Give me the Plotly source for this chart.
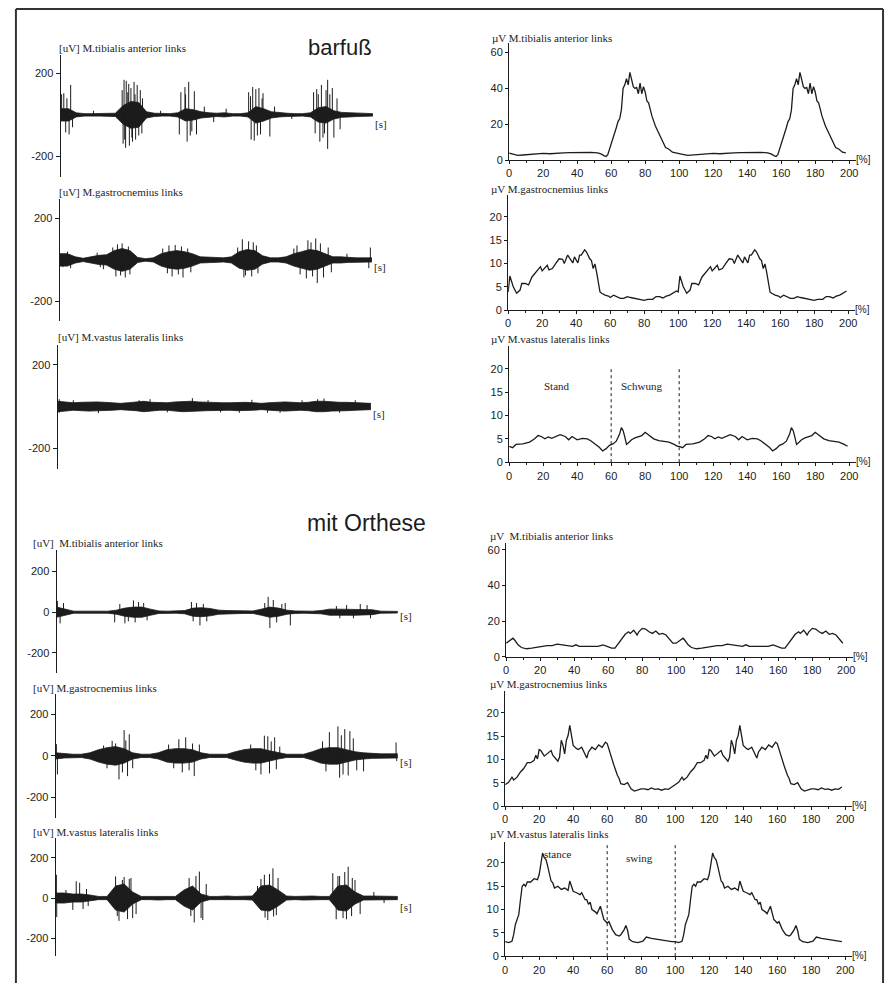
import plotly.graph_objects as go

W, H = 892, 990

# ---------------- DATA ----------------
# time grid of raw EMG envelope (s)
t_grid = [0, 0.25, 0.5, 0.75, 1.0, 1.25, 1.5, 1.75, 2.0, 2.25, 2.5, 2.75, 3.0, 3.25, 3.5, 3.75,
          4.0, 4.25, 4.5, 4.75, 5.0, 5.25, 5.5, 5.75, 6.0, 6.25, 6.5, 6.75, 7.0, 7.25, 7.5, 7.75,
          8.0, 8.25, 8.5, 8.75, 9.0, 9.25, 9.5, 9.75, 10.0]

# dense-core amplitude of raw EMG (uV), barfuß
tib_bar_core = [30, 30, 10, 6, 6, 6, 6, 8, 45, 65, 60, 15, 8, 6, 6, 10, 30, 25, 15, 10,
                8, 10, 6, 6, 10, 40, 30, 15, 10, 8, 6, 6, 10, 35, 40, 20, 12, 10, 8, 6, 6]
gas_bar_core = [30, 30, 15, 8, 15, 22, 25, 45, 55, 45, 12, 6, 10, 30, 40, 45, 40, 30, 15, 12,
                12, 10, 15, 40, 50, 45, 20, 10, 10, 15, 30, 40, 50, 45, 30, 15, 15, 12, 10, 10, 10]
vas_bar_core = [25, 22, 18, 20, 22, 22, 20, 18, 15, 18, 20, 25, 20, 18, 18, 22, 25, 25, 22, 20,
                18, 18, 18, 20, 20, 18, 15, 18, 20, 22, 20, 18, 20, 25, 25, 22, 20, 20, 18, 18, 15]
# mit Orthese
tib_ort_core = [25, 15, 5, 5, 5, 5, 5, 10, 20, 25, 25, 15, 6, 5, 5, 8, 20, 22, 18, 10,
                8, 8, 6, 6, 15, 25, 20, 10, 6, 5, 5, 8, 15, 15, 15, 15, 15, 12, 5, 5, 4]
gas_ort_core = [15, 10, 8, 8, 15, 30, 40, 45, 35, 15, 8, 8, 15, 30, 35, 35, 30, 15, 8, 8,
                8, 20, 30, 35, 35, 25, 15, 8, 8, 8, 20, 35, 40, 40, 30, 20, 15, 12, 10, 10, 10]
vas_ort_core = [25, 25, 20, 20, 15, 8, 8, 60, 70, 30, 8, 8, 10, 8, 8, 40, 60, 20, 8, 8,
                10, 8, 8, 10, 60, 65, 40, 10, 8, 10, 10, 8, 8, 60, 65, 30, 10, 10, 10, 8, 8]

# individual spikes (time s, peak uV)
tib_bar_spk_t = [0.03, 0.1, 0.16, 0.27, 0.32, 0.38, 1.97, 2.03, 2.1, 2.18, 2.25, 2.35, 2.45, 2.55,
                 2.0, 2.08, 2.2, 2.3, 2.4, 2.6, 3.85, 3.98, 4.1, 4.28, 3.8, 4.05, 4.15, 4.35, 4.6, 4.9,
                 6.02, 6.15, 6.25, 6.35, 6.48, 6.1, 6.2, 6.4, 6.7, 6.85,
                 8.1, 8.2, 8.35, 8.5, 8.55, 8.7, 8.85, 8.15, 8.3, 8.55, 8.75, 8.95,
                 2.05, 2.15, 2.28, 2.38, 2.5, 2.62, 4.0, 4.2, 6.08, 6.3, 6.45, 8.25, 8.4, 8.62,
                 8.45, 0.2, 1.05, 3.2, 5.3, 7.4]
tib_bar_spk_v = [100, 105, -85, -95, 145, -60, 120, 170, 165, 150, 130, 160, 145, 120,
                 -140, -160, -150, -130, -120, -90, 110, 135, 160, 115, -95, -130, -100, -95, 40, -35,
                 110, 135, 125, 130, 105, -120, -125, -95, -105, 40,
                 110, 125, 145, 120, 170, 130, 80, -90, -130, -165, -110, -70,
                 -120, 110, -110, 100, -100, 80, 100, -80, 90, -100, 80, 100, -110, 100,
                 -90, 80, 20, 20, 30, -20]
gas_bar_spk_t = [0.05, 1.4, 1.85, 2.0, 2.1, 1.8, 3.5, 3.7, 3.9, 3.6, 3.95, 5.85, 6.05, 6.2, 5.9, 6.15,
                 7.6, 7.95, 8.2, 8.35, 7.9, 8.25, 8.45, 9.95, 9.9,
                 0.1, 0.25, 0.35, 1.7, 1.95, 2.2, 2.25, 3.3, 3.45, 3.8, 4.1, 4.2, 5.7, 5.95, 6.3,
                 6.35, 7.5, 7.7, 8.05, 8.1, 8.6, 8.7, 9.2, 1.2, 1.3]
gas_bar_spk_v = [30, -45, 75, 80, -85, -80, 70, 72, 65, -80, -85, 100, 90, 85, -85, -80,
                 70, 95, 104, 80, -90, -112, -85, 60, -40,
                 -35, 40, -40, 60, -75, 65, -70, 55, -65, -70, 55, -60, 60, -75, 70,
                 -65, 55, -70, 85, -80, 60, -60, 30, 35, -35]
vas_bar_spk_t = [0.05, 0.05, 2.95, 4.3, 5.8, 6.7, 8.3, 8.5, 0.5, 1.3, 2.6, 3.5, 4.8, 5.2, 6.2,
                 7.1, 7.8, 9.0, 9.5]
vas_bar_spk_v = [35, -30, 35, 40, -30, -30, 35, 38, 30, -32, 30, -28, 30, -28, 32,
                 -30, 30, -30, 30]
tib_ort_spk_t = [0.02, 0.1, 0.2, 1.7, 2.0, 2.25, 2.4, 2.3, 3.95, 4.2, 4.1, 4.4, 6.2, 6.25, 6.35, 6.85,
                 6.6, 8.5, 8.9, 8.7, 9.1,
                 1.85, 2.1, 2.55, 2.65, 4.3, 4.0, 6.1, 6.45, 6.7, 8.2, 8.3, 9.2]
tib_ort_spk_v = [55, -55, 45, -50, -55, 58, 50, -50, 50, -65, 45, -45, 75, -78, 60, -65,
                 40, 35, 40, -30, 35,
                 40, -45, 45, -40, 40, -45, 45, -50, 45, 30, -30, -30]
gas_ort_spk_t = [0.02, 0.05, 1.65, 2.0, 2.1, 2.15, 1.85, 1.75, 2.25, 3.6, 3.8, 3.7, 4.05, 4.2,
                 6.0, 6.1, 6.2, 6.4, 6.25, 6.55, 8.0, 8.25, 8.45, 8.6, 8.3, 8.55, 9.0, 9.95, 9.97,
                 1.4, 1.5, 1.95, 2.05, 3.3, 3.45, 3.9, 4.0, 5.7, 5.85, 6.3, 6.45, 7.8, 7.9, 8.35,
                 8.4, 8.7, 8.8]
gas_ort_spk_v = [57, -90, 73, 125, -98, 105, -114, 60, -60, 81, 90, -80, -98, 55,
                 -90, 98, 95, 90, -85, 45, 115, 143, 130, 120, -106, -95, -75, 65, -25,
                 50, -60, -80, 75, 55, -60, -70, 60, 55, -70, 70, -65, 70, -75, 100,
                 -90, 85, -70]
vas_ort_spk_t = [0.02, 0.03, 0.6, 0.7, 0.5, 0.8, 1.75, 2.0, 2.2, 1.85, 2.25, 2.35, 3.9, 4.2, 4.05,
                 4.3, 4.4, 5.9, 6.1, 6.35, 6.5, 6.12, 6.37, 8.1, 8.3, 8.55, 8.75, 8.2, 8.5, 8.9, 9.3, 9.6,
                 1.8, 1.95, 2.1, 2.15, 3.95, 4.1, 4.25, 6.0, 6.2, 6.25, 6.45, 8.25, 8.4, 8.45, 8.65,
                 8.67, 0.3, 0.9, 0.95]
vas_ort_spk_v = [116, -95, 84, 76, -59, -55, 108, 105, 100, -114, -100, -80, 100, 132, -122,
                 -110, 70, 60, 116, 148, 100, -98, -92, 124, 110, 156, 90, -106, -106, -80, 30, -25,
                 -90, 90, -105, 95, -90, 110, -100, 95, -110, 120, -85, 110, -100, 130, -90,
                 100, 40, 45, -40]

# mean gait-cycle envelopes (one cycle 0-100 %, shown twice), uV
tib_bar_x = [0, 2, 5, 8, 12, 16, 20, 24, 28, 32, 36, 40, 44, 48, 52, 54, 56, 57, 58, 60, 62, 63, 64,
             65, 66, 67, 68, 69, 70, 71, 72, 73, 74, 75, 76, 77, 78, 79, 80, 81, 82, 84, 86, 88,
             90, 92, 94, 96, 98]
tib_bar_y = [3.8, 3.2, 2.6, 2.8, 3.2, 3.4, 3.7, 3.5, 3.9, 4.0, 4.1, 4.2, 4.2, 4.3, 4.0, 3.4, 2.3,
             2.0, 3.0, 8.5, 14, 18, 21.5, 23, 28, 40, 42, 45.5, 42, 49, 45, 41, 40, 40.5, 37, 43,
             37, 41, 38, 33, 32, 24.5, 19, 15, 10.5, 7, 6, 4.4, 4.0]
gas_bar_x = [0, 1, 3, 5, 7, 8, 10, 12, 14, 16, 18, 19, 20, 22, 23, 24, 26, 28, 30, 32, 33, 35, 37,
             38, 39, 41, 42, 43, 45, 46, 48, 49, 50, 51, 52, 53, 54, 55, 57, 59, 60, 62, 64, 66,
             68, 70, 72, 75, 78, 80, 82, 85, 87, 89, 91, 93, 95, 97, 99]
gas_bar_y = [3.9, 7.3, 5.0, 3.6, 4.3, 5.7, 5.7, 5.4, 7.1, 8.0, 8.9, 9.3, 8.4, 9.3, 9.6, 8.6, 8.9,
             10.0, 11.0, 10.9, 10.0, 11.8, 10.6, 10.1, 11.4, 10.1, 11.8, 11.8, 12.9, 12.5, 11.0,
             10.6, 8.9, 9.9, 8.2, 5.7, 3.9, 3.6, 3.2, 3.0, 2.7, 3.2, 2.9, 2.5, 2.5, 2.9, 2.7, 2.5,
             2.3, 2.1, 2.3, 2.3, 2.9, 2.9, 2.6, 3.0, 3.2, 3.6, 4.1]
vas_bar_x = [0, 2, 4, 8, 12, 15, 17, 19, 21, 23, 25, 28, 30, 33, 35, 37, 40, 43, 46, 48, 50, 53,
             55, 57, 59, 61, 63, 65, 66, 67, 68, 69, 70, 72, 74, 76, 78, 80, 81, 83, 85, 88, 91,
             94, 97, 99]
vas_bar_y = [3.4, 3.1, 3.8, 3.9, 4.3, 5.0, 5.7, 5.5, 5.0, 5.4, 5.1, 5.6, 5.9, 5.5, 4.8, 5.5, 4.8,
             5.1, 5.0, 4.6, 4.1, 3.2, 2.4, 2.9, 3.6, 3.9, 4.5, 6.1, 7.4, 6.8, 5.4, 3.8, 4.1, 4.8,
             5.2, 5.5, 5.7, 6.4, 6.1, 5.5, 5.0, 4.6, 4.5, 4.3, 3.8, 3.4]
tib_ort_x = [0, 2, 4, 5, 7, 9, 12, 15, 18, 21, 24, 27, 30, 33, 36, 39, 41, 43, 46, 50, 54, 57, 60,
             62, 64, 66, 68, 70, 72, 73, 75, 77, 78, 80, 82, 84, 86, 88, 90, 92, 94, 96, 98]
tib_ort_y = [7.7, 9.0, 10.5, 9.5, 6.8, 5.3, 4.6, 5.0, 5.5, 5.9, 6.4, 6.4, 7.2, 6.8, 6.4, 5.9, 6.8,
             5.9, 5.9, 5.9, 5.9, 6.8, 5.9, 5.0, 5.0, 7.7, 10.5, 12.7, 14.1, 13.2, 15.0, 12.3,
             14.1, 16.0, 15.6, 14.1, 13.2, 14.5, 12.7, 13.2, 12.3, 10.1, 7.7]
gas_ort_x = [0, 2, 4, 5, 7, 9, 11, 13, 15, 17, 18, 19, 20, 21, 23, 25, 27, 28, 30, 31, 32, 33, 34,
             35, 36, 37, 38, 39, 40, 42, 43, 45, 47, 48, 49, 51, 53, 55, 57, 59, 60, 62, 64, 66,
             67, 68, 70, 72, 74, 76, 78, 80, 82, 84, 86, 88, 90, 92, 94, 96, 98]
gas_ort_y = [4.6, 5.1, 6.2, 5.6, 6.2, 7.3, 8.1, 9.3, 9.3, 9.8, 10.9, 10.1, 12.1, 11.9, 10.7, 11.4,
             11.9, 10.9, 10.1, 9.6, 10.5, 14.1, 13.0, 11.2, 14.1, 15.1, 17.3, 14.8, 13.0, 12.3,
             12.1, 12.6, 11.2, 10.3, 11.6, 12.6, 12.1, 13.1, 12.6, 13.7, 13.4, 10.9, 8.7, 6.6,
             5.9, 4.8, 4.6, 5.0, 3.7, 3.2, 3.4, 3.7, 3.7, 3.5, 3.9, 3.6, 3.7, 3.4, 3.7, 3.6, 4.1]
vas_ort_x = [0, 2, 4, 5, 6, 8, 9, 10, 11, 12, 13, 15, 17, 19, 20, 21, 22, 23, 24, 25, 26, 27, 28,
             29, 31, 33, 35, 37, 38, 39, 40, 42, 44, 45, 47, 48, 49, 50, 51, 53, 54, 56, 57, 58,
             60, 61, 63, 65, 67, 68, 70, 71, 72, 73, 75, 78, 81, 83, 86, 89, 92, 95, 98]
vas_ort_y = [3.1, 2.9, 3.2, 4.6, 6.8, 8.9, 12.1, 15.0, 15.4, 15.0, 15.9, 15.9, 16.6, 16.4, 17.5,
             20.4, 22.1, 21.1, 20.7, 19.3, 17.9, 16.1, 15.7, 14.6, 15.0, 14.3, 14.6, 14.1, 16.1,
             15.0, 13.9, 13.6, 13.2, 13.6, 12.1, 12.1, 11.1, 11.6, 10.0, 9.5, 9.1, 10.7, 9.3, 7.9,
             7.1, 7.4, 5.7, 4.6, 4.3, 4.6, 5.7, 6.6, 5.5, 3.6, 3.1, 2.9, 3.2, 4.1, 3.8, 3.6, 3.4,
             3.2, 3.1]

left_titles = ["[uV] M.tibialis anterior links", "[uV] M.gastrocnemius links",
               "[uV] M.vastus lateralis links", "[uV]  M.tibialis anterior links",
               "[uV] M.gastrocnemius links", "[uV] M.vastus lateralis links"]
right_titles = ["µV M.tibialis anterior links", "µV M.gastrocnemius links",
                "µV M.vastus lateralis links", "µV  M.tibialis anterior links",
                "µV M.gastrocnemius links", "µV M.vastus lateralis links"]
left_ticks_bar = [-200, 200]
left_ticks_bar_txt = ["-200", "200"]
left_ticks_ort = [-200, 0, 200]
left_ticks_ort_txt = ["-200", "0", "200"]
x_ticks_pct = [0, 20, 40, 60, 80, 100, 120, 140, 160, 180, 200]
y_ticks_big = [0, 20, 40, 60]
y_ticks_small = [0, 5, 10, 15, 20]
phase_lines = [60, 100]

# ---------------- LAYOUT (pixel geometry) ----------------
def fx(p):
    return p / W


def fy(p):
    return 1 - p / H


INK = "#1c1c1c"
SERIF = "Liberation Serif, Times New Roman, serif"
SANS = "Liberation Sans Narrow, Liberation Sans, Arial, sans-serif"

left_panels = [
    dict(core=tib_bar_core, st=tib_bar_spk_t, sv=tib_bar_spk_v, x0=58, x1=372, top=55, bot=178,
         lo=-301, hi=292, ticks=left_ticks_bar, ttxt=left_ticks_bar_txt, tx=54, ty=48, sy=125),
    dict(core=gas_bar_core, st=gas_bar_spk_t, sv=gas_bar_spk_v, x0=57, x1=371, top=200, bot=323,
         lo=-296, hi=296, ticks=left_ticks_bar, ttxt=left_ticks_bar_txt, tx=54, ty=193, sy=269),
    dict(core=vas_bar_core, st=vas_bar_spk_t, sv=vas_bar_spk_v, x0=55, x1=370, top=347, bot=472,
         lo=-300, hi=295, ticks=left_ticks_bar, ttxt=left_ticks_bar_txt, tx=53, ty=339, sy=417),
    dict(core=tib_ort_core, st=tib_ort_spk_t, sv=tib_ort_spk_v, x0=54, x1=397, top=553, bot=677,
         lo=-298, hi=307, ticks=left_ticks_ort, ttxt=left_ticks_ort_txt, tx=28, ty=546, sy=620),
    dict(core=gas_ort_core, st=gas_ort_spk_t, sv=gas_ort_spk_v, x0=53, x1=397, top=698, bot=823,
         lo=-301, hi=301, ticks=left_ticks_ort, ttxt=left_ticks_ort_txt, tx=28, ty=692, sy=767),
    dict(core=vas_ort_core, st=vas_ort_spk_t, sv=vas_ort_spk_v, x0=53, x1=397, top=843, bot=962,
         lo=-290, hi=300, ticks=left_ticks_ort, ttxt=left_ticks_ort_txt, tx=28, ty=837, sy=913),
]

right_panels = [
    dict(x=tib_bar_x, y=tib_bar_y, x0=509, top=43, bot=161, hi=65.5, ticks=y_ticks_big, tx=490, ty=38),
    dict(x=gas_bar_x, y=gas_bar_y, x0=508, top=196, bot=312, hi=24.7, ticks=y_ticks_small, tx=489, ty=190),
    dict(x=vas_bar_x, y=vas_bar_y, x0=509, top=348, bot=465, hi=24.9, ticks=y_ticks_small, tx=489, ty=341,
         phases=("Stand", "Schwung"), ph_top=20.2, ph_y=16.4, ph_x=(28, 78)),
    dict(x=tib_ort_x, y=tib_ort_y, x0=506, top=546, bot=661, hi=63.9, ticks=y_ticks_big, tx=488, ty=539),
    dict(x=gas_ort_x, y=gas_ort_y, x0=505, top=695, bot=811, hi=24.7, ticks=y_ticks_small, tx=488, ty=688),
    dict(x=vas_ort_x, y=vas_ort_y, x0=505, top=847, bot=962, hi=24.5, ticks=y_ticks_small, tx=488, ty=839,
         phases=("stance", "swing"), ph_top=23.8, ph_y=(22.0, 21.0), ph_x=(31, 79)),
]

X_RANGE_PCT = 204
PX_PER_PCT = 1.71

fig = go.Figure()
layout = dict(width=W, height=H, margin=dict(l=0, r=0, t=0, b=0), autosize=False,
              paper_bgcolor="white", plot_bgcolor="rgba(0,0,0,0)", showlegend=False)
annotations = []
shapes = []

k = 0
for p in left_panels:
    k += 1
    xa = "x" if k == 1 else f"x{k}"
    ya = "y" if k == 1 else f"y{k}"
    band_x = t_grid + t_grid[::-1]
    band_y = p["core"] + [-c for c in p["core"][::-1]]
    fig.add_trace(go.Scatter(x=band_x, y=band_y, fill="toself", fillcolor=INK, mode="lines",
                             line=dict(color=INK, width=0.8), xaxis=xa, yaxis=ya, hoverinfo="skip"))
    sx, sy = [], []
    for t, v in zip(p["st"], p["sv"]):
        sx += [t, t, None]
        sy += [0, v, None]
    fig.add_trace(go.Scatter(x=sx, y=sy, mode="lines", line=dict(color=INK, width=1),
                             xaxis=xa, yaxis=ya, hoverinfo="skip"))
    layout[f"xaxis{'' if k == 1 else k}"] = dict(domain=[fx(p["x0"]), fx(p["x1"])], range=[0, 10],
                                                 visible=False, anchor=ya)
    layout[f"yaxis{'' if k == 1 else k}"] = dict(
        domain=[fy(p["bot"]), fy(p["top"])], range=[p["lo"], p["hi"]], anchor=xa,
        showline=True, linecolor=INK, linewidth=1.3, ticks="outside", ticklen=4, tickwidth=1,
        tickcolor=INK, tickvals=p["ticks"], ticktext=p["ttxt"], showgrid=False, zeroline=False,
        tickfont=dict(family=SANS, size=11, color=INK))
    annotations.append(dict(text=left_titles[k - 1], x=fx(p["tx"]), y=fy(p["ty"]), xref="paper",
                            yref="paper", xanchor="left", yanchor="middle", showarrow=False,
                            font=dict(family=SERIF, size=11, color=INK)))
    annotations.append(dict(text="[s]", x=fx(p["x1"]), y=fy(p["sy"]), xref="paper", yref="paper",
                            xanchor="left", yanchor="middle", showarrow=False,
                            font=dict(family=SERIF, size=11, color=INK)))

for i, p in enumerate(right_panels):
    k += 1
    xa, ya = f"x{k}", f"y{k}"
    xs = p["x"] + [v + 100 for v in p["x"]]
    ys = p["y"] + p["y"]
    fig.add_trace(go.Scatter(x=xs, y=ys, mode="lines", line=dict(color=INK, width=1.3),
                             xaxis=xa, yaxis=ya, hoverinfo="skip"))
    x1 = p["x0"] + X_RANGE_PCT * PX_PER_PCT
    layout[f"xaxis{k}"] = dict(
        domain=[fx(p["x0"]), fx(x1)], range=[0, X_RANGE_PCT], anchor=ya, showline=True,
        linecolor=INK, linewidth=1.3, ticks="outside", ticklen=3, tickwidth=1, tickcolor=INK,
        tickvals=x_ticks_pct, showgrid=False, zeroline=False,
        minor=dict(dtick=10, ticks="outside", ticklen=2, tickcolor=INK),
        tickfont=dict(family=SANS, size=11, color=INK))
    layout[f"yaxis{k}"] = dict(
        domain=[fy(p["bot"]), fy(p["top"])], range=[0, p["hi"]], anchor=xa, showline=True,
        linecolor=INK, linewidth=1.3, ticks="outside", ticklen=3, tickwidth=1, tickcolor=INK,
        tickvals=p["ticks"], showgrid=False, zeroline=False,
        tickfont=dict(family=SANS, size=11, color=INK))
    annotations.append(dict(text=right_titles[i], x=fx(p["tx"]), y=fy(p["ty"]), xref="paper",
                            yref="paper", xanchor="left", yanchor="middle", showarrow=False,
                            font=dict(family=SERIF, size=11, color=INK)))
    annotations.append(dict(text="[%]", x=fx(x1 - 2), y=fy(p["bot"] - 1), xref="paper", yref="paper",
                            xanchor="left", yanchor="middle", showarrow=False,
                            font=dict(family=SANS, size=10, color=INK)))
    if "phases" in p:
        for xv in phase_lines:
            shapes.append(dict(type="line", xref=xa, yref=ya, x0=xv, x1=xv, y0=0, y1=p["ph_top"],
                               line=dict(color=INK, width=1, dash="dot")))
        phy = p["ph_y"] if isinstance(p["ph_y"], tuple) else (p["ph_y"], p["ph_y"])
        for lbl, xv, yv in zip(p["phases"], p["ph_x"], phy):
            annotations.append(dict(text=lbl, x=xv, y=yv, xref=xa, yref=ya, showarrow=False,
                                    font=dict(family=SERIF, size=11, color=INK)))

# section headings
annotations.append(dict(text="barfuß", x=fx(339), y=fy(33), xref="paper", yref="paper",
                        showarrow=False, font=dict(family="Liberation Sans, Arial, sans-serif",
                                                   size=22, color=INK)))
annotations.append(dict(text="mit Orthese", x=fx(366), y=fy(526), xref="paper", yref="paper",
                        showarrow=False, font=dict(family="Liberation Sans, Arial, sans-serif",
                                                   size=23, color=INK)))

# page frame
for (x0, y0, x1, y1) in [(13, 9, 885, 9), (13, 9, 13, 989), (885, 9, 885, 989)]:
    shapes.append(dict(type="line", xref="paper", yref="paper", x0=fx(x0), y0=fy(y0),
                       x1=fx(x1), y1=fy(y1), line=dict(color="#333333", width=2)))

layout["annotations"] = annotations
layout["shapes"] = shapes
fig.update_layout(**layout)
fig.write_html("out.html", config={"displayModeBar": False},
               post_script="document.body.style.margin='0px';document.body.style.overflow='hidden';")
